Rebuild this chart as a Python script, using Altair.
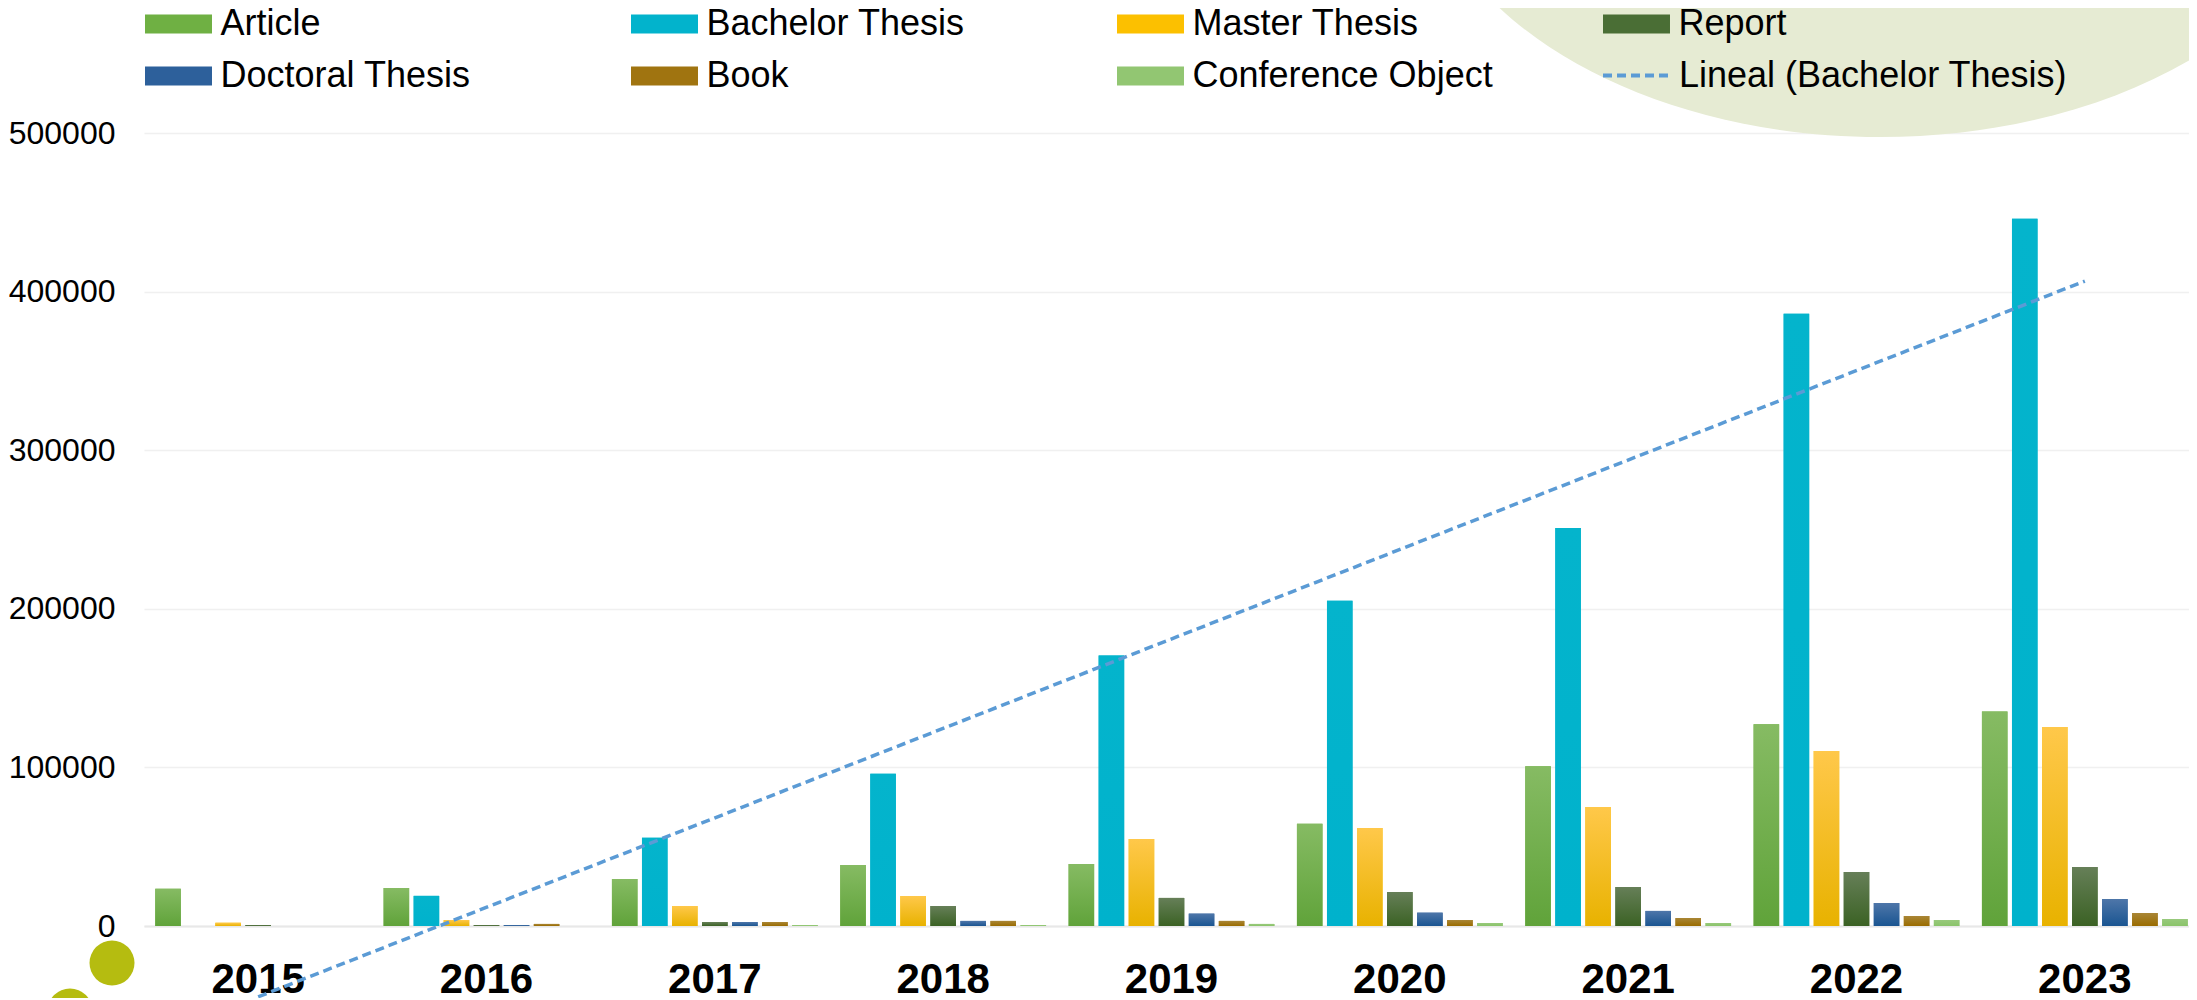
import altair as alt
import pandas as pd

# ---------------- data ----------------
years = [2015, 2016, 2017, 2018, 2019, 2020, 2021, 2022, 2023]
types = ["Article", "Bachelor Thesis", "Master Thesis", "Report",
         "Doctoral Thesis", "Book", "Conference Object"]

article = [23500, 24000, 29600, 38500, 39100, 64500, 100700, 127200, 135200]
bachelor = [0, 19000, 55600, 96000, 170500, 205000, 250900, 386000, 446000]
master = [2000, 3800, 12600, 18900, 54800, 61800, 75100, 110400, 125500]
report = [600, 600, 2500, 12600, 17700, 21400, 24600, 34000, 37200]
doctoral = [0, 600, 2500, 3200, 7800, 8400, 9500, 14500, 17000]
book = [0, 1300, 2500, 3200, 3200, 3800, 5000, 6300, 8200]
conference = [0, 0, 600, 600, 1300, 1900, 1900, 3800, 4400]

trend_label = "Lineal (Bachelor Thesis)"
y_ticks = [0, 100000, 200000, 300000, 400000, 500000]

base_colors = ["#6fb043", "#02b3cc", "#fcc000", "#4a6e35", "#2d609b", "#a07410", "#92c672"]
top_colors = ["#86bb63", "#04b4cc", "#ffc84a", "#667f58", "#4e76a9", "#a98636", "#98c97c"]
bottom_colors = ["#60a33a", "#00b2cc", "#e8b200", "#3b6224", "#1a5591", "#9a6c00", "#8ac46a"]

series = [article, bachelor, master, report, doctoral, book, conference]
rows = []
for t, vals in zip(types, series):
    for yr, v in zip(years, vals):
        rows.append({"year": yr, "type": t, "value": v})
df = pd.DataFrame(rows)

FONT = "Liberation Sans"
W, H = 2055, 793


def grad(top, bottom):
    return {"gradient": "linear", "x1": 0, "y1": 0, "x2": 0, "y2": 1,
            "stops": [{"offset": 0, "color": top}, {"offset": 1, "color": bottom}]}


x_enc = alt.X("year:O", title=None,
              scale=alt.Scale(paddingInner=0, paddingOuter=0),
              axis=alt.Axis(labelFontSize=42, labelFontWeight="bold", labelColor="black",
                            labelFont=FONT, labelPadding=33, ticks=False,
                            domainColor="#e8e8e8", domainWidth=2, labelAngle=0, grid=False))
y_enc = alt.Y("value:Q", title=None,
              scale=alt.Scale(domain=[0, 500000], nice=False, zero=True),
              axis=alt.Axis(values=y_ticks, format="d", labelFontSize=32, labelColor="black",
                            labelFont=FONT, labelPadding=29, ticks=False, domain=False,
                            gridColor="#f0f0f0", gridWidth=1.5))
xoff = alt.XOffset("type:N", sort=types,
                   scale=alt.Scale(domain=types, paddingInner=0.15, paddingOuter=0.375))

spaced = ["Master Thesis", "Report", "Doctoral Thesis", "Book", "Conference Object"]
label_expr = "indexof(" + str(spaced) + ", datum.label) >= 0 ? '\u00a0' + datum.label : datum.label"

bars = alt.Chart(df).mark_bar().encode(
    x=x_enc, y=y_enc, xOffset=xoff,
    color=alt.Color("type:N", scale=alt.Scale(domain=types, range=base_colors),
                    legend=alt.Legend(title=None, orient="none", legendX=16.5, legendY=-127,
                                      direction="horizontal", columns=4, gridAlign="all",
                                      columnPadding=109, rowPadding=16,
                                      symbolType="M-2.233,-0.633H2.233V0.633H-2.233Z",
                                      symbolSize=900, symbolStrokeWidth=0, labelOffset=24,
                                      labelFontSize=36, labelFont=FONT, labelColor="black",
                                      labelLimit=700, labelExpr=label_expr)),
)

fill_def = {
    "condition": [{"test": "datum.type === '%s'" % t, "value": grad(tc, bc)}
                  for t, tc, bc in zip(types[:-1], top_colors[:-1], bottom_colors[:-1])],
    "value": grad(top_colors[-1], bottom_colors[-1]),
}
grad_bars = alt.Chart(df).mark_bar().encode(x=x_enc, y=y_enc, xOffset=xoff, fill=fill_def)

trend = alt.Chart(df).transform_filter(
    "datum.type === 'Bachelor Thesis'"
).transform_regression(
    "year", "value", method="linear"
).transform_calculate(
    serie="'" + trend_label + "'"
).mark_line(color="#5b9bd5", strokeWidth=3.5, clip=False).encode(
    x=alt.X("year:O"), y=alt.Y("value:Q"),
    strokeDash=alt.StrokeDash("serie:N", scale=alt.Scale(domain=[trend_label], range=[[9, 5]]),
                              legend=alt.Legend(title=None, orient="none", legendX=1457, legendY=-93,
                                                symbolType="stroke", symbolSize=4489,
                                                symbolStrokeColor="#5b9bd5", symbolStrokeWidth=4,
                                                labelOffset=7, labelFontSize=36, labelFont=FONT,
                                                labelColor="black", labelLimit=700)),
)

one = alt.Data(values=[{"k": 1}])
ellipse_path = ("M-1,0 C-1,-0.3579 -0.5523,-0.648 0,-0.648 C0.5523,-0.648 1,-0.3579 1,0 "
                "C1,0.3579 0.5523,0.648 0,0.648 C-0.5523,0.648 -1,0.3579 -1,0 Z")
ellipse = alt.Chart(one).mark_point(shape=ellipse_path, filled=True, fill="#e6ebd3",
                                    opacity=1, strokeWidth=0, size=857476).encode(
    x=alt.value(1736), y=alt.value(-296))
dot1 = alt.Chart(one).mark_point(shape="circle", filled=True, fill="#b5bc10", opacity=1,
                                 strokeWidth=0, size=2025).encode(x=alt.value(-32), y=alt.value(830))
dot2 = alt.Chart(one).mark_point(shape="circle", filled=True, fill="#b5bc10", opacity=1,
                                 strokeWidth=0, size=2025).encode(x=alt.value(-74), y=alt.value(878))

chart = alt.layer(ellipse, bars, grad_bars, trend, dot1, dot2).properties(
    width=W, height=H, autosize="none",
    padding={"left": 136, "top": 125, "right": -10, "bottom": 72},
    background="white",
).configure_view(stroke=None)

chart.save("out.html", embed_options={"renderer": "svg", "actions": False})
